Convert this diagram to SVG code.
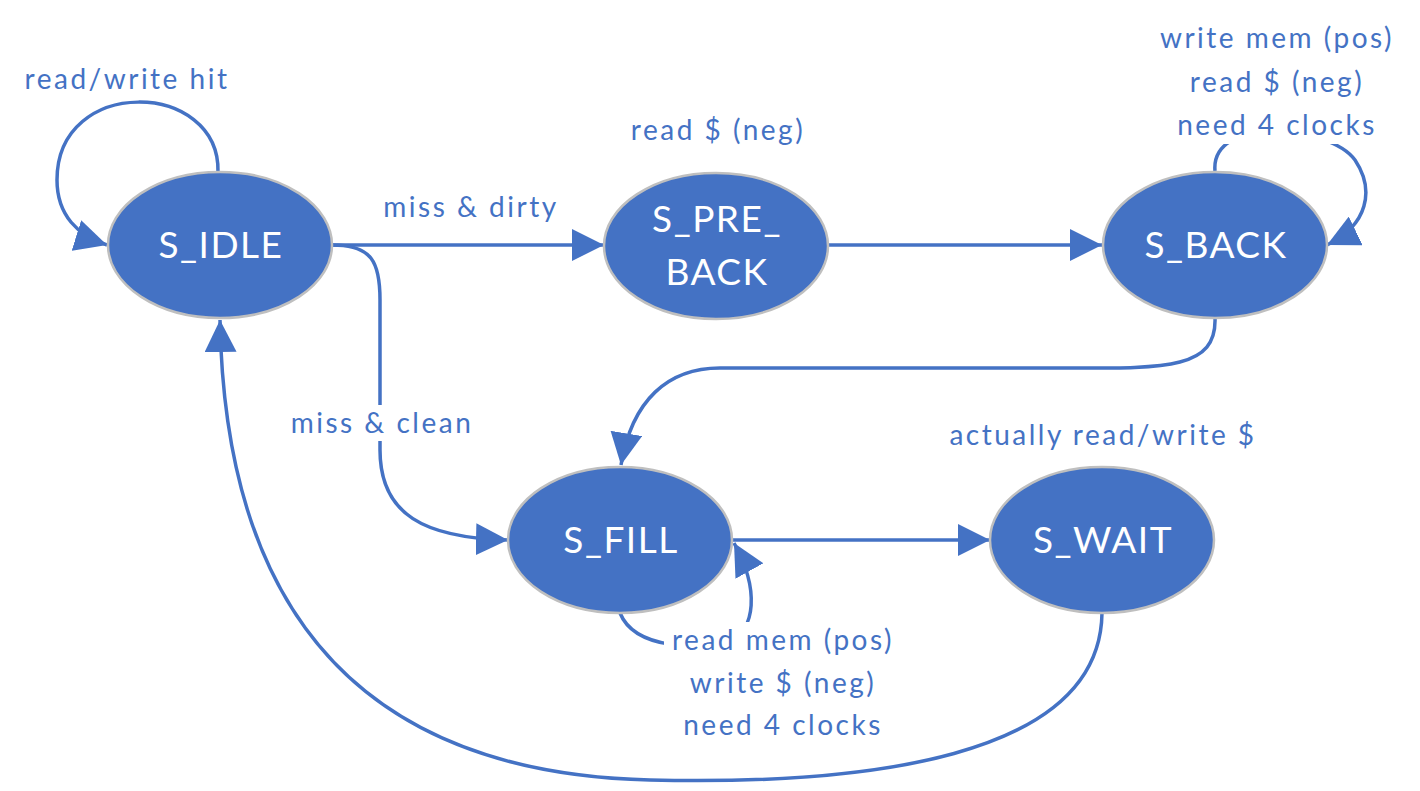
<svg xmlns="http://www.w3.org/2000/svg" width="1420" height="791" viewBox="0 0 1420 791">
<style>
.node ellipse{fill:#4472C4;stroke:#BFBFBF;stroke-width:2.5}
.node text{fill:#FFFFFF;font-family:Lato,"Liberation Sans",sans-serif;font-size:37px;letter-spacing:1.5px;text-anchor:middle}
.lbl{fill:#4472C4;font-family:Lato,"Liberation Sans",sans-serif;font-size:28px;letter-spacing:2.5px;text-anchor:middle}
.edge{fill:none;stroke:#4472C4;stroke-width:3.5;marker-end:url(#arr)}
.bg{fill:#FFFFFF}
</style>
<defs>
<marker id="arr" markerUnits="userSpaceOnUse" markerWidth="34" markerHeight="32" refX="32" refY="16" orient="auto">
<path d="M0,0 L32,16 L0,32 Z" fill="#4472C4"/>
</marker>
</defs>
<g id="connectors">
<path class="edge" d="M218,172 C220,80 57,75 57,180 C57,215 78,236 107,245"/>
<path class="edge" d="M332,245 L604,245"/>
<path class="edge" d="M828,245 L1102,245"/>
<path class="edge" d="M1215,171 C1210,115 1330,125 1355,160 C1375,190 1368,225 1327,245"/>
<path class="edge" d="M1215,318 C1217,372 1160,368 1050,368 L720,368 C668,368 632,400 621,465"/>
<path class="edge" d="M332,245 C372,245 380,262 380,300 L380,450 C380,515 425,538 508,540"/>
<path class="edge" d="M620,613 C635,650 700,650 730,640 C755,630 760,590 734,543"/>
<path class="edge" d="M732,540 L990,540"/>
<path class="edge" d="M1102,613 C1100,760 860,785 650,780 C360,773 225,610 220,320"/>
</g>
<g id="labels">
<text class="lbl" x="127" y="89">read/write hit</text>
<text class="lbl" x="471" y="217">miss &amp; dirty</text>
<text class="lbl" x="718" y="140">read $ (neg)</text>
<text class="lbl" x="1277" y="48">write mem (pos)</text>
<text class="lbl" x="1277" y="92">read $ (neg)</text>
<rect class="bg" x="1172" y="108" width="210" height="36"/>
<text class="lbl" x="1277" y="135">need 4 clocks</text>
<rect class="bg" x="286" y="405" width="192" height="36"/>
<text class="lbl" x="382" y="433">miss &amp; clean</text>
<text class="lbl" x="1103" y="445">actually read/write $</text>
<rect class="bg" x="664" y="622" width="240" height="36"/>
<text class="lbl" x="783" y="650">read mem (pos)</text>
<text class="lbl" x="783" y="693">write $ (neg)</text>
<text class="lbl" x="783" y="735">need 4 clocks</text>
</g>
<g id="S_IDLE" class="node"><ellipse cx="220" cy="245" rx="112" ry="73"/><text x="221" y="258">S_IDLE</text></g>
<g id="S_PRE_BACK" class="node"><ellipse cx="716" cy="246" rx="112" ry="73"/><text x="717" y="232">S_PRE_</text><text x="717" y="285">BACK</text></g>
<g id="S_BACK" class="node"><ellipse cx="1215" cy="245" rx="112" ry="73"/><text x="1216" y="258">S_BACK</text></g>
<g id="S_FILL" class="node"><ellipse cx="620" cy="540" rx="112" ry="73"/><text x="621" y="553">S_FILL</text></g>
<g id="S_WAIT" class="node"><ellipse cx="1102" cy="540" rx="112" ry="73"/><text x="1103" y="553">S_WAIT</text></g>
</svg>
